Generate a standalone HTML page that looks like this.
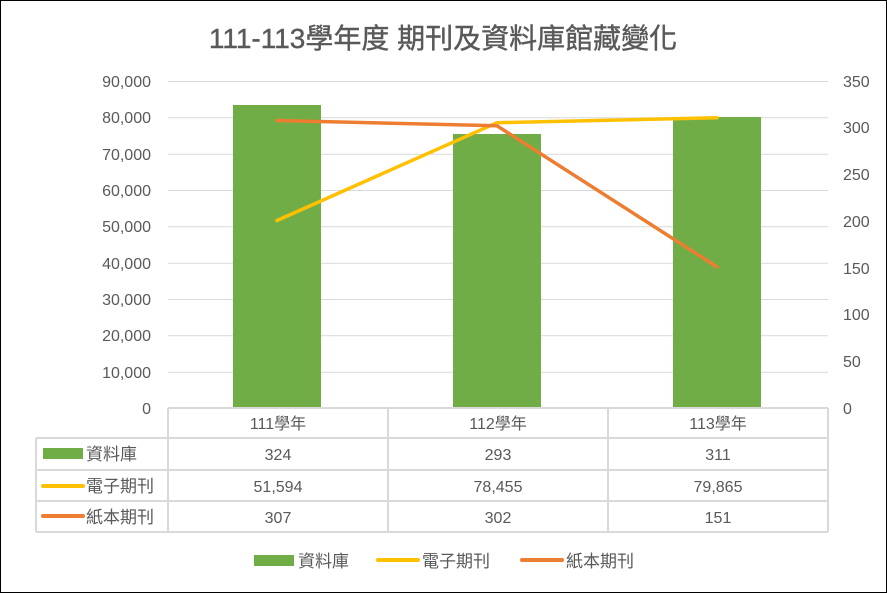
<!DOCTYPE html>
<html><head><meta charset="utf-8"><style>
body{margin:0;background:#fff}
svg{display:block}
text{font-family:"Liberation Sans","Noto Sans CJK TC",sans-serif;fill:#595959}
</style></head><body>
<svg width="887" height="593" viewBox="0 0 887 593" xmlns="http://www.w3.org/2000/svg">
<rect x="0.5" y="0.5" width="886" height="592" fill="#fff" stroke="#000" stroke-width="1"/>
<text x="443" y="48" font-size="28" text-anchor="middle" stroke="#595959" stroke-width="0.4">111-113學年度 期刊及資料庫館藏變化</text>
<g stroke="#d9d9d9" stroke-width="1">
<line x1="168" y1="81.5" x2="828" y2="81.5"/>
<line x1="168" y1="117.8" x2="828" y2="117.8"/>
<line x1="168" y1="154.2" x2="828" y2="154.2"/>
<line x1="168" y1="190.5" x2="828" y2="190.5"/>
<line x1="168" y1="226.8" x2="828" y2="226.8"/>
<line x1="168" y1="263.2" x2="828" y2="263.2"/>
<line x1="168" y1="299.5" x2="828" y2="299.5"/>
<line x1="168" y1="335.8" x2="828" y2="335.8"/>
<line x1="168" y1="372.2" x2="828" y2="372.2"/>
</g>
<g font-size="16" text-anchor="end">
<text x="151" y="87">90,000</text><text x="151" y="123">80,000</text><text x="151" y="160">70,000</text>
<text x="151" y="196">60,000</text><text x="151" y="232">50,000</text><text x="151" y="269">40,000</text>
<text x="151" y="305">30,000</text><text x="151" y="341">20,000</text><text x="151" y="378">10,000</text>
<text x="151" y="414">0</text>
</g>
<g font-size="16" text-anchor="start">
<text x="843" y="87">350</text><text x="843" y="133">300</text><text x="843" y="180">250</text>
<text x="843" y="227">200</text><text x="843" y="320">100</text><text x="843" y="274">150</text>
<text x="843" y="367">50</text><text x="843" y="414">0</text>
</g>
<g fill="#70ad47">
<rect x="233" y="105" width="88" height="303"/>
<rect x="453" y="134" width="88" height="274"/>
<rect x="673" y="117" width="88" height="291"/>
</g>
<polyline points="277,220.5 497,122.7 717,117.8" fill="none" stroke="#ffc000" stroke-width="3.5" stroke-linecap="round" stroke-linejoin="round"/>
<polyline points="277,120.5 497,125.8 717,266.9" fill="none" stroke="#ed7d31" stroke-width="3.5" stroke-linecap="round" stroke-linejoin="round"/>
<g stroke="#d9d9d9" stroke-width="2" fill="none">
<line x1="168" y1="408" x2="828" y2="408"/>
<line x1="168" y1="408" x2="168" y2="532"/>
<line x1="388" y1="408" x2="388" y2="532"/>
<line x1="608" y1="408" x2="608" y2="532"/>
<line x1="828" y1="408" x2="828" y2="532"/>
<line x1="36" y1="438" x2="36" y2="532"/>
<line x1="36" y1="438" x2="828" y2="438"/>
<line x1="36" y1="470" x2="828" y2="470"/>
<line x1="36" y1="501" x2="828" y2="501"/>
<line x1="36" y1="532" x2="828" y2="532"/>
</g>
<g font-size="16" text-anchor="middle">
<text x="278" y="429">111學年</text><text x="498" y="429">112學年</text><text x="718" y="429">113學年</text>
<text x="278" y="460">324</text><text x="498" y="460">293</text><text x="718" y="460">311</text>
<text x="278" y="492">51,594</text><text x="498" y="492">78,455</text><text x="718" y="492">79,865</text>
<text x="278" y="523">307</text><text x="498" y="523">302</text><text x="718" y="523">151</text>
</g>
<rect x="43" y="448" width="40" height="11" fill="#70ad47"/>
<line x1="43" y1="486" x2="83" y2="486" stroke="#ffc000" stroke-width="4" stroke-linecap="round"/>
<line x1="43" y1="516" x2="83" y2="516" stroke="#ed7d31" stroke-width="4" stroke-linecap="round"/>
<g font-size="17">
<text x="86" y="460">資料庫</text><text x="86" y="492">電子期刊</text><text x="86" y="523">紙本期刊</text>
</g>
<rect x="254" y="555" width="40" height="11" fill="#70ad47"/>
<text x="298" y="567" font-size="17">資料庫</text>
<line x1="378" y1="560" x2="418" y2="560" stroke="#ffc000" stroke-width="4" stroke-linecap="round"/>
<text x="422" y="567" font-size="17">電子期刊</text>
<line x1="522" y1="560" x2="562" y2="560" stroke="#ed7d31" stroke-width="4" stroke-linecap="round"/>
<text x="566" y="567" font-size="17">紙本期刊</text>
</svg>
</body></html>
